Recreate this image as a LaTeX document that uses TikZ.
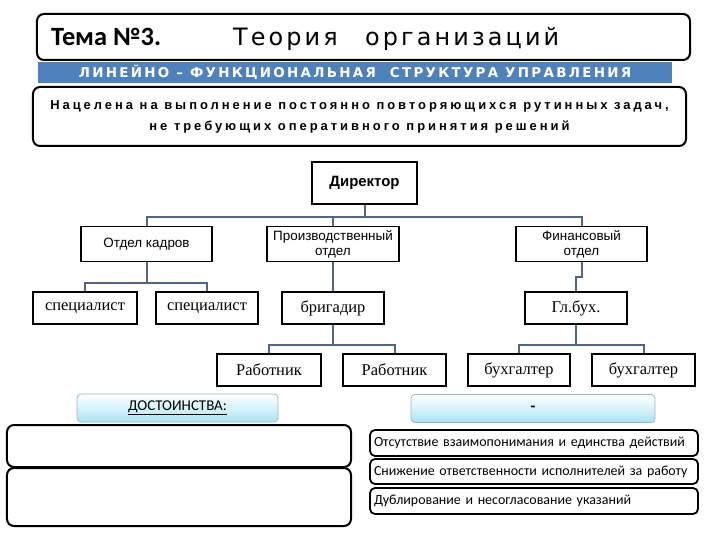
\documentclass[tikz,border=0pt]{standalone}
\usepackage{fontspec}
\setmainfont{Liberation Serif}
\newfontfamily\arialfont{Liberation Sans}
\newfontfamily\calfont{Carlito}
\newfontfamily\themefont[LetterSpace=13]{DejaVu Sans}
\newfontfamily\barfont[LetterSpace=17]{DejaVu Sans}
\newfontfamily\descfont[LetterSpace=23]{Liberation Sans}
\usetikzlibrary{positioning}

\definecolor{barblue}{RGB}{79,129,189}
\definecolor{linkgray}{RGB}{82,102,130}
\definecolor{tabcyan}{RGB}{172,228,246}
\definecolor{tabedge}{RGB}{150,185,200}

\begin{document}
\begin{tikzpicture}[
    x=1bp, y=-1bp,
    % Styles
    frame/.style={draw=black, line width=2bp, rounded corners=7bp, fill=white, inner sep=0pt},
    orgbox/.style={draw=black, line width=1.8bp, fill=white, inner sep=0pt, align=center},
    dept/.style={orgbox, font={\arialfont\fontsize{13.5}{15}\selectfont}, minimum height=35bp},
    staff/.style={orgbox, font={\fontsize{16.5}{18}\selectfont}, minimum height=32bp},
    link/.style={draw=linkgray, line width=2bp},
    tab/.style={draw=tabedge, line width=0.8bp, rounded corners=4bp, top color=white, bottom color=tabcyan, inner sep=0pt, minimum height=28bp},
    point/.style={frame, line width=1.8bp, rounded corners=5bp, minimum width=328bp, text width=320bp, align=left, inner xsep=4bp, font={\calfont\fontsize{14}{16}\selectfont}},
]

\useasboundingbox (0,0) rectangle (720,540);

% Title
\node[frame, minimum width=653bp, minimum height=46bp] (title) at (363.5,37) {};
\node[anchor=base west, inner sep=0pt, font={\calfont\bfseries\fontsize{26.5}{30}\selectfont}] (tema) at (51,46) {Тема №3.};
\node[anchor=base west, inner sep=0pt, font={\themefont\fontsize{24}{28}\selectfont}] (theory) at (233,46) {Теория};
\node[anchor=base west, inner sep=0pt, font={\themefont\fontsize{24}{28}\selectfont}] (org) at (365,46) {организаций};

% Blue bar
\node[fill=barblue, minimum width=634bp, minimum height=21bp, inner sep=0pt, text=white,
      font={\barfont\bfseries\fontsize{13.5}{15}\selectfont}] (bar) at (355,72.5)
      {ЛИНЕЙНО – ФУНКЦИОНАЛЬНАЯ\ \ СТРУКТУРА УПРАВЛЕНИЯ};

% Aim
\node[frame, minimum width=653bp, minimum height=59bp, align=center,
      font={\descfont\bfseries\fontsize{13}{21}\selectfont}] (aim) at (359.5,116.5)
      {Нацелена на выполнение постоянно повторяющихся рутинных задач,\\
       не требующих оперативного принятия решений};

% Org chart
\node[orgbox, minimum width=105bp, minimum height=42bp, font={\arialfont\bfseries\fontsize{15}{17}\selectfont}] (dir) at (364.5,183) {Директор};

\node[dept, minimum width=131bp] (kadry) at (146.5,244) {Отдел кадров};
\node[dept, minimum width=132bp] (proizv) at (333,244) {Производственный\\отдел};
\node[dept, minimum width=131bp] (fin) at (581.5,244) {Финансовый\\отдел};

\node[staff, minimum width=104bp] (spec1) at (85,308) {специалист};
\node[staff, minimum width=102bp] (spec2) at (207,308) {специалист};
\node[staff, minimum width=102bp] (brig) at (333,308) {бригадир};
\node[staff, minimum width=102bp] (glbuh) at (576,308) {Гл.бух.};

\node[staff, minimum width=104bp] (rab1) at (269,370) {Работник};
\node[staff, minimum width=103bp] (rab2) at (394.5,370) {Работник};
\node[staff, minimum width=102bp] (buh1) at (519,370) {бухгалтер};
\node[staff, minimum width=103bp] (buh2) at (643.5,370) {бухгалтер};

\draw[link] (dir.south) -- ++(0,12) -| (kadry.north);
\draw[link] (dir.south) -- ++(0,12) -| (proizv.north);
\draw[link] (dir.south) -- ++(0,12) -| (fin.north);

\draw[link] (kadry.south) -- ++(0,21) -| (spec1.north);
\draw[link] (kadry.south) -- ++(0,21) -| (spec2.north);
\draw[link] (proizv.south) -- (brig.north);
\draw[link] (fin.south) -- ++(0,15) -| (glbuh.north);

\draw[link] (brig.south) -- ++(0,20) -| (rab1.north);
\draw[link] (brig.south) -- ++(0,20) -| (rab2.north);
\draw[link] (glbuh.south) -- ++(0,20) -| (buh1.north);
\draw[link] (glbuh.south) -- ++(0,20) -| (buh2.north);

% Pros and cons
\node[tab, minimum width=201bp, font={\calfont\fontsize{15}{17}\selectfont}] (pros) at (177.5,408) {\underline{ДОСТОИНСТВА:}};
\node[tab, minimum width=244bp, font={\calfont\bfseries\fontsize{16}{18}\selectfont}] (cons) at (533,408.5) {-};

\node[frame, minimum width=344bp, minimum height=42bp] (pro1) at (179,446) {};
\node[frame, minimum width=344bp, minimum height=58bp] (pro2) at (179,497) {};

\node[point, minimum height=26bp] (con1) at (534,443) {Отсутствие взаимопонимания и единства действий};
\node[point, minimum height=25bp] (con2) at (534,471.5) {Снижение ответственности исполнителей за работу};
\node[point, minimum height=26bp] (con3) at (534,501) {Дублирование и несогласование указаний};

\end{tikzpicture}
\end{document}
